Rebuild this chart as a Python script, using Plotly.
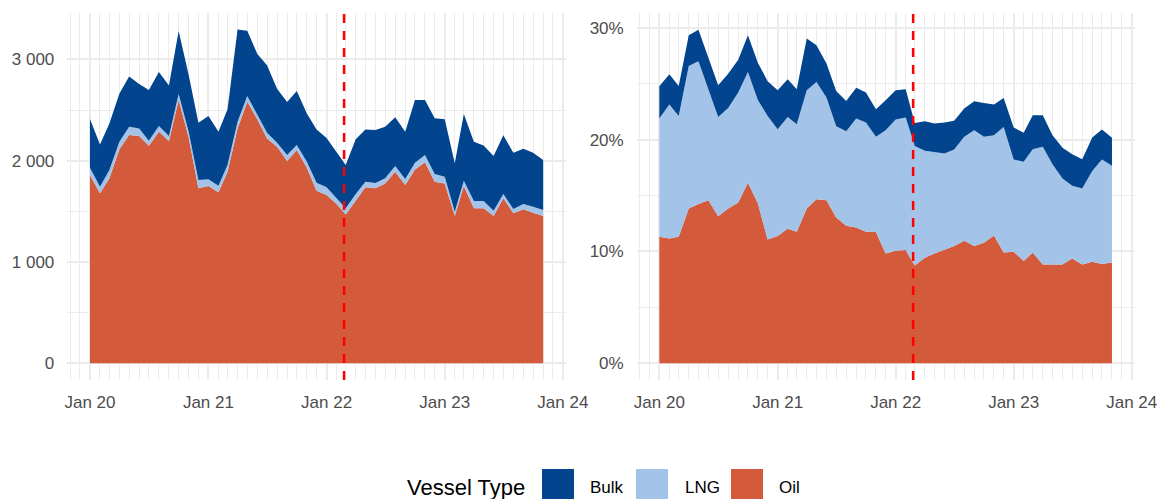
import pandas as pd
import plotly.graph_objects as go

months = pd.date_range("2020-01-01", periods=47, freq="MS")
event_date = "2022-02-24"

# Left panel: volumes (stack order Oil, LNG, Bulk)
oil_vol = [1859, 1678, 1826, 2112, 2253, 2243, 2148, 2286, 2194, 2599, 2230, 1727, 1750, 1688, 1891, 2319,
           2582, 2408, 2220, 2138, 1997, 2105, 1931, 1704, 1661, 1572, 1470, 1612, 1737, 1727, 1776, 1891,
           1760, 1914, 1984, 1793, 1776, 1454, 1750, 1530, 1530, 1454, 1628, 1480, 1520, 1487, 1454]
lng_vol = [72, 65, 82, 76, 83, 76, 49, 56, 49, 59, 56, 82, 66, 65, 66, 66, 56, 43, 56, 40, 59, 50, 59, 79,
           76, 56, 60, 59, 56, 53, 50, 56, 59, 66, 72, 75, 66, 43, 53, 72, 72, 53, 43, 43, 52, 59, 59]
bulk_vol = [480, 418, 460, 476, 496, 438, 500, 533, 500, 622, 559, 566, 625, 533, 550, 911, 645, 602, 665,
            533, 523, 533, 477, 526, 487, 454, 427, 540, 516, 523, 510, 481, 467, 619, 543, 550, 566, 477,
            658, 586, 549, 539, 579, 556, 546, 533, 494]

# Right panel: shares in percent
oil_pct = [11.31, 11.16, 11.31, 13.84, 14.23, 14.58, 13.15, 13.84, 14.38, 16.13, 14.29, 11.07, 11.37, 12.02,
           11.76, 13.84, 14.67, 14.58, 13.04, 12.29, 12.14, 11.76, 11.73, 9.82, 10.06, 10.12, 8.75, 9.43,
           9.82, 10.18, 10.48, 10.95, 10.48, 10.77, 11.43, 9.91, 9.97, 9.14, 9.91, 8.84, 8.87, 8.84, 9.38,
           8.84, 9.08, 8.87, 9.02]
lng_pct = [10.57, 11.97, 10.80, 12.74, 12.76, 9.97, 8.87, 8.99, 9.82, 9.91, 9.22, 11.04, 9.55, 10.00, 9.61,
           10.56, 10.48, 9.17, 8.15, 8.45, 9.74, 9.76, 8.51, 11.01, 11.73, 11.84, 10.68, 9.56, 9.08, 8.57,
           8.63, 9.29, 10.35, 9.47, 8.96, 11.22, 8.24, 8.87, 9.23, 10.51, 8.93, 7.68, 6.48, 6.79, 8.12,
           9.34, 8.63]
bulk_pct = [2.88, 2.70, 2.68, 2.74, 2.83, 2.68, 2.83, 3.06, 2.94, 3.28, 3.34, 3.10, 3.48, 3.37, 3.12, 4.62,
            3.27, 3.04, 3.16, 2.71, 2.76, 2.68, 2.47, 2.68, 2.61, 2.53, 2.06, 2.65, 2.53, 2.77, 2.56, 2.53,
            2.59, 3.03, 2.74, 2.59, 2.86, 2.59, 3.03, 2.82, 2.59, 2.74, 2.83, 2.61, 2.98, 2.68, 2.50]

# Tick labels
x_tickvals = ["2020-01-01", "2021-01-01", "2022-01-01", "2023-01-01", "2024-01-01"]
x_ticktext = ["Jan 20", "Jan 21", "Jan 22", "Jan 23", "Jan 24"]
vol_tickvals = [0, 1000, 2000, 3000]
vol_ticktext = ["0", "1 000", "2 000", "3 000"]
pct_tickvals = [0, 10, 20, 30]
pct_ticktext = ["0%", "10%", "20%", "30%"]

vessel_types = ["Oil", "LNG", "Bulk"]
colors = {"Bulk": "#02448E", "LNG": "#A3C4E8", "Oil": "#D35B3C"}
legend_order = ["Bulk", "LNG", "Oil"]

W, H = 1162, 499
FONT = "Liberation Sans, Arial, sans-serif"
GRID = "#EBEBEB"
TXT = "#4D4D4D"

fig = go.Figure()
left = {"Oil": oil_vol, "LNG": lng_vol, "Bulk": bulk_vol}
right = {"Oil": oil_pct, "LNG": lng_pct, "Bulk": bulk_pct}
for name in vessel_types:
    fig.add_trace(go.Scatter(x=months, y=left[name], stackgroup="a", mode="lines",
                             line=dict(width=0, color=colors[name]), fillcolor=colors[name],
                             name=name, showlegend=False, xaxis="x", yaxis="y"))
for name in vessel_types:
    fig.add_trace(go.Scatter(x=months, y=right[name], stackgroup="b", mode="lines",
                             line=dict(width=0, color=colors[name]), fillcolor=colors[name],
                             name=name, showlegend=False, xaxis="x2", yaxis="y2"))

ydom = [1 - 380 / H, 1 - 13 / H]
xcommon = dict(type="date", range=["2019-10-23", "2024-01-10"], tickvals=x_tickvals, ticktext=x_ticktext,
               showgrid=True, gridcolor=GRID, gridwidth=1.8, zeroline=False, showline=False,
               ticks="", ticklabelstandoff=10,
               tickfont=dict(family=FONT, size=17, color=TXT),
               minor=dict(dtick="M1", tick0="2020-01-01", showgrid=True, gridcolor=GRID, gridwidth=0.9),
               automargin=False, fixedrange=True)
ycommon = dict(showgrid=True, gridcolor=GRID, gridwidth=1.8, zeroline=False, showline=False, ticks="",
               ticklabelstandoff=12, tickfont=dict(family=FONT, size=17, color=TXT),
               automargin=False, domain=ydom, fixedrange=True)

fig.update_layout(
    width=W, height=H, template="none",
    paper_bgcolor="white", plot_bgcolor="white",
    margin=dict(l=0, r=0, t=0, b=0), showlegend=False,
    xaxis=dict(domain=[67.3 / W, 565.8 / W], anchor="y", **xcommon),
    yaxis=dict(anchor="x", range=[-165, 3458], tickvals=vol_tickvals, ticktext=vol_ticktext,
               minor=dict(tickvals=[500, 1500, 2500], showgrid=True, gridcolor=GRID, gridwidth=0.9),
               **ycommon),
    xaxis2=dict(domain=[636.7 / W, 1134.6 / W], anchor="y2", **xcommon),
    yaxis2=dict(anchor="x2", range=[-1.49, 31.31], tickvals=pct_tickvals, ticktext=pct_ticktext,
                minor=dict(tickvals=[5, 15, 25], showgrid=True, gridcolor=GRID, gridwidth=0.9),
                **ycommon),
)

for xr, yr in [("x", "y domain"), ("x2", "y2 domain")]:
    fig.add_shape(type="line", xref=xr, yref=yr, x0=event_date, x1=event_date, y0=0, y1=1,
                  line=dict(color="#FF0000", width=2.5, dash="9px,8px"), layer="above")

# Custom legend at bottom
def px_x(v):
    return v / W

def px_y(v):
    return 1 - v / H

fig.add_annotation(x=px_x(405), y=px_y(487), xref="paper", yref="paper", text="Vessel Type",
                   showarrow=False, xanchor="left", yanchor="middle",
                   font=dict(family=FONT, size=22, color="#000000"))
key_x = {"Bulk": 542, "LNG": 636, "Oil": 731}
lab_x = {"Bulk": 588, "LNG": 683, "Oil": 777}
for name in legend_order:
    fig.add_shape(type="rect", xref="paper", yref="paper", x0=px_x(key_x[name]), x1=px_x(key_x[name] + 32),
                  y0=px_y(501), y1=px_y(469), fillcolor=colors[name], line=dict(width=0))
    fig.add_annotation(x=px_x(lab_x[name]), y=px_y(487), xref="paper", yref="paper", text=name,
                       showarrow=False, xanchor="left", yanchor="middle",
                       font=dict(family=FONT, size=17, color="#000000"))

fig.write_html("out.html", config={"displayModeBar": False},
               post_script="document.body.style.margin='0';document.body.style.overflow='hidden';")
